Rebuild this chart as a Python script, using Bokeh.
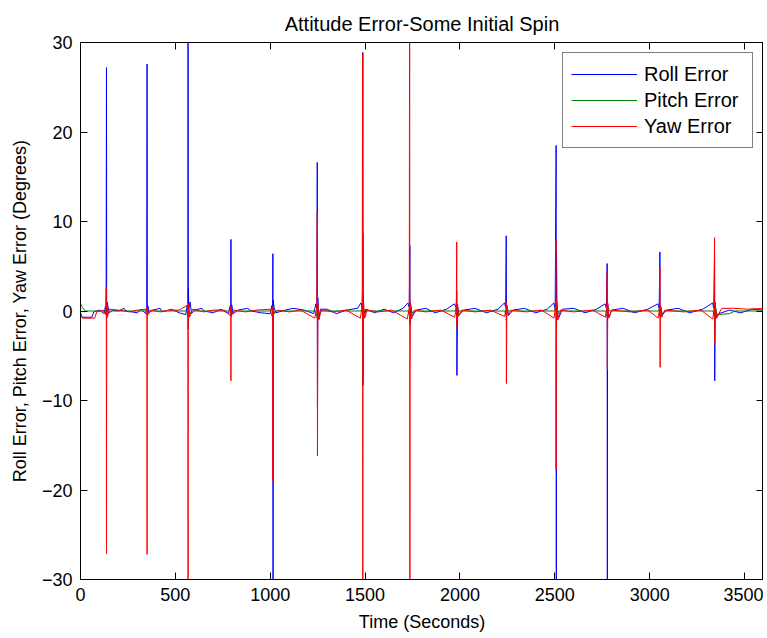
from bokeh.plotting import figure
from bokeh.models import Range1d, LinearAxis, Legend, LegendItem, FixedTicker
from bokeh.embed import file_html
from bokeh.resources import INLINE

# ---- data ----
roll_time = [0, 8, 60, 70, 100, 125, 131, 135, 137, 138, 140, 146, 152, 170, 200, 230, 240, 300, 320, 345,
             349, 351, 352, 355, 362, 380, 420, 430, 480, 520, 555, 562, 566, 567, 568, 569, 571, 578, 585,
             600, 640, 650, 700, 740, 780, 788, 792, 793, 794, 797, 805, 830, 880, 900, 950, 1000, 1008,
             1013, 1014, 1015, 1016, 1020, 1030, 1080, 1120, 1180, 1230, 1240, 1246, 1248, 1249, 1251,
             1256, 1265, 1300, 1350, 1400, 1460, 1478, 1484, 1487, 1488, 1489, 1490, 1494, 1505, 1550,
             1600, 1650, 1700, 1726, 1733, 1736, 1737, 1740, 1748, 1770, 1820, 1870, 1930, 1970, 1980,
             1983, 1984, 1987, 1995, 2020, 2080, 2140, 2200, 2235, 2241, 2244, 2245, 2248, 2256, 2280,
             2340, 2400, 2460, 2495, 2502, 2507, 2508, 2509, 2511, 2518, 2540, 2600, 2660, 2720, 2765,
             2772, 2776, 2777, 2778, 2784, 2800, 2860, 2920, 2990, 3044, 3050, 3054, 3055, 3058, 3066,
             3090, 3150, 3210, 3280, 3332, 3338, 3342, 3343, 3345, 3352, 3365, 3420, 3480, 3540, 3600]
roll_error = [-0.2, -0.7, -0.7, -0.1, 0.1, -0.3, 0.5, 0.0, 27.2, -0.8, 1.0, 0.4, -0.2, 0.1, 0.0, 0.3, 0.0,
              -0.2, 0.2, -0.3, 0.4, 27.6, -0.5, 0.6, -0.2, 0.1, 0.3, -0.1, 0.2, -0.2, -0.4, 0.6, 0.2, 42.0,
              -2.0, 2.5, 0.3, 1.0, -0.3, 0.1, 0.3, 0.0, -0.2, 0.2, -0.3, 0.5, 0.1, 8.0, -0.6, 0.7, -0.3,
              0.1, 0.3, 0.0, -0.2, -0.3, 0.6, 0.2, 6.4, -42.0, 1.2, 0.4, -0.2, 0.1, 0.3, 0.1, -0.3, 0.8,
              0.3, 16.6, -10.6, 1.5, -0.9, 0.2, 0.2, -0.3, 0.1, 0.3, 0.9, 0.4, 2.5, 28.9, -8.3, 2.0, -0.8,
              0.2, -0.2, 0.2, -0.2, 0.3, 0.9, 0.4, 7.3, -1.5, 0.7, -0.6, 0.1, 0.3, -0.2, 0.2, 0.8, 0.4,
              2.2, -7.2, 0.6, -0.4, 0.1, 0.3, -0.2, 0.2, 0.9, 0.4, 8.4, -1.0, 0.6, -0.5, 0.1, 0.3, -0.2,
              0.2, 0.9, 0.3, 18.5, -42.0, 6.4, 1.0, -0.9, 0.2, 0.3, -0.2, 0.2, 0.8, 0.3, 5.3, -42.0, 1.0,
              -0.7, 0.1, 0.3, -0.2, 0.2, 0.8, 0.3, 6.6, -0.6, 0.5, -0.4, 0.1, 0.3, -0.2, 0.2, 0.9, 0.3,
              6.4, -7.8, 1.0, -0.8, -0.3, 0.1, -0.2, 0.2, 0.1]

pitch_time = [0, 10, 25, 130, 137, 139, 145, 160, 345, 351, 353, 360, 560, 567, 569, 575, 590, 785, 793,
              795, 805, 1005, 1014, 1016, 1025, 1240, 1248, 1250, 1258, 1270, 1480, 1488, 1490, 1500,
              1510, 1728, 1736, 1738, 1748, 1760, 1975, 1983, 1985, 1995, 2236, 2244, 2246, 2255, 2498,
              2507, 2509, 2520, 2768, 2776, 2778, 2788, 3046, 3054, 3056, 3065, 3080, 3334, 3342, 3344,
              3355, 3420, 3450, 3600]
pitch_error = [0.8, 0.4, 0.0, 0.0, -0.5, 0.6, -0.3, 0.0, 0.0, 0.3, -0.3, 0.0, 0.0, -0.6, 0.7, -0.3, 0.0,
               0.0, 0.4, -0.4, 0.0, 0.0, 0.5, -0.5, 0.0, 0.0, -0.8, 0.8, -0.3, 0.0, 0.0, 0.9, -0.9, 0.2,
               0.0, 0.0, -0.8, 0.8, -0.2, 0.0, 0.0, 0.6, -0.6, 0.0, 0.0, -0.5, 0.5, 0.0, 0.0, 0.8, -0.8,
               0.0, 0.0, -0.6, 0.6, 0.0, 0.0, 0.5, -0.5, -0.3, 0.0, 0.0, -0.6, 0.6, -0.4, -0.3, 0.0, 0.0]

yaw_time = [0, 10, 75, 85, 120, 133, 136, 137, 138, 142, 150, 200, 260, 300, 345, 350, 351, 352, 356, 370,
            420, 470, 520, 560, 566, 567, 568, 570, 575, 590, 650, 700, 760, 788, 792, 793, 794, 798, 810,
            870, 930, 1000, 1010, 1013, 1014, 1015, 1020, 1040, 1100, 1160, 1235, 1246, 1248, 1249, 1251,
            1256, 1270, 1330, 1400, 1475, 1485, 1487, 1488, 1489, 1490, 1492, 1498, 1510, 1570, 1640,
            1722, 1733, 1735, 1736, 1737, 1739, 1745, 1760, 1820, 1900, 1972, 1981, 1983, 1984, 1987,
            1993, 2010, 2080, 2160, 2236, 2242, 2244, 2245, 2247, 2254, 2270, 2350, 2430, 2496, 2504,
            2506, 2507, 2508, 2510, 2516, 2530, 2600, 2700, 2766, 2774, 2776, 2777, 2779, 2785, 2800,
            2900, 2990, 3045, 3052, 3054, 3055, 3057, 3064, 3080, 3180, 3270, 3333, 3340, 3342, 3343,
            3345, 3352, 3380, 3450, 3520, 3600]
yaw_error = [-0.3, -0.8, -0.8, -0.1, 0.1, -0.4, 2.7, -27.1, 0.6, -0.7, 0.2, 0.1, -0.1, 0.1, 0.2, 0.4,
             -27.2, 0.3, -0.4, 0.1, -0.1, 0.1, 0.1, 0.6, 0.3, -42.0, -2.2, 0.8, -0.7, 0.2, -0.1, 0.1, 0.1,
             -0.5, 0.4, -7.8, 0.5, -0.4, 0.1, -0.1, 0.1, 0.2, -0.6, 0.4, -19.0, 0.5, -0.3, 0.1, -0.1, 0.1,
             -0.8, 0.4, 11.0, -16.2, 0.9, -1.0, 0.1, -0.1, 0.1, -0.8, 0.5, 28.7, -42.0, 8.7, -3.0, 1.0,
             -0.8, 0.1, -0.1, 0.1, -0.9, 0.4, 42.0, -42.0, -7.0, 1.0, -0.9, 0.1, -0.1, 0.1, -0.7, 0.4,
             7.7, -1.8, 0.8, -0.6, 0.1, -0.1, 0.1, -0.6, 0.2, 1.0, -8.1, 0.6, -0.5, 0.1, -0.1, 0.1, -0.8,
             0.5, 7.9, -17.8, -6.1, 1.2, -1.0, 0.1, -0.1, 0.1, -0.7, 0.3, 4.3, -6.6, 0.8, -0.8, 0.1,
             -0.1, 0.1, -0.8, 0.3, 4.8, -6.3, 0.7, -0.7, 0.1, -0.1, 0.1, -0.9, 0.4, 8.2, -3.6, 1.0, -0.8,
             0.3, 0.3, 0.2, 0.3]

x_ticks = [0, 500, 1000, 1500, 2000, 2500, 3000, 3500]
y_ticks = [-30, -20, -10, 0, 10, 20, 30]
series_names = ["Roll Error", "Pitch Error", "Yaw Error"]
series_colors = ["#0000ff", "#008000", "#ff0000"]

FONT = "Liberation Sans"

p = figure(frame_width=683, frame_height=537, output_backend="svg", toolbar_location=None,
           x_range=Range1d(0, 3600), y_range=Range1d(-30, 30),
           min_border_left=80, min_border_right=0, min_border_top=42, min_border_bottom=50,
           title="Attitude Error-Some Initial Spin")
p.background_fill_color = "white"
p.border_fill_color = "white"
p.outline_line_color = "black"
p.xgrid.visible = False
p.ygrid.visible = False

p.title.text_font = FONT
p.title.text_font_size = "20px"
p.title.text_font_style = "normal"
p.title.align = "center"
p.title.text_color = "black"
p.title.standoff = 16

r1 = p.line(roll_time, roll_error, line_color=series_colors[0], line_width=1)
r2 = p.line(pitch_time, pitch_error, line_color=series_colors[1], line_width=1)
r3 = p.line(yaw_time, yaw_error, line_color=series_colors[2], line_width=1)

def style_axis(ax, ticks, show_labels=True):
    ax.ticker = FixedTicker(ticks=ticks)
    ax.major_tick_in = 7
    ax.major_tick_out = 0
    ax.minor_tick_line_color = None
    ax.axis_line_color = "black"
    ax.major_tick_line_color = "black"
    ax.major_label_text_font = FONT
    ax.axis_label_text_font = FONT
    ax.axis_label_text_font_style = "normal"
    ax.axis_label_text_color = "black"
    if show_labels:
        ax.major_label_text_color = "black"
        ax.major_label_text_font_size = "18px"
        ax.axis_label_text_font_size = "18px"
    else:
        ax.major_label_text_color = None
        ax.major_label_text_font_size = "0px"
        ax.major_label_standoff = 0

xa = p.xaxis[0]
ya = p.yaxis[0]
style_axis(xa, x_ticks)
style_axis(ya, y_ticks)
xa.axis_label = "Time (Seconds)"
ya.axis_label = "Roll Error, Pitch Error, Yaw Error (Degrees)"
xa.major_label_standoff = 8
ya.major_label_standoff = 8
xa.axis_label_standoff = 8
ya.axis_label_standoff = 9

top_ax = LinearAxis()
right_ax = LinearAxis()
style_axis(top_ax, x_ticks, False)
style_axis(right_ax, y_ticks, False)
p.add_layout(top_ax, "above")
p.add_layout(right_ax, "right")

legend = Legend(items=[LegendItem(label=series_names[0], renderers=[r1]),
                       LegendItem(label=series_names[1], renderers=[r2]),
                       LegendItem(label=series_names[2], renderers=[r3])],
                location="top_right")
legend.margin = 10
legend.padding = 8
legend.spacing = 0
legend.glyph_width = 66
legend.glyph_height = 26
legend.label_height = 26
legend.label_width = 100
legend.label_standoff = 7
legend.label_text_font = FONT
legend.label_text_font_size = "20px"
legend.label_text_color = "black"
legend.border_line_color = "black"
legend.border_line_width = 1
legend.background_fill_color = "white"
legend.background_fill_alpha = 1.0
p.add_layout(legend)

open("out.html", "w").write(file_html(p, INLINE))
